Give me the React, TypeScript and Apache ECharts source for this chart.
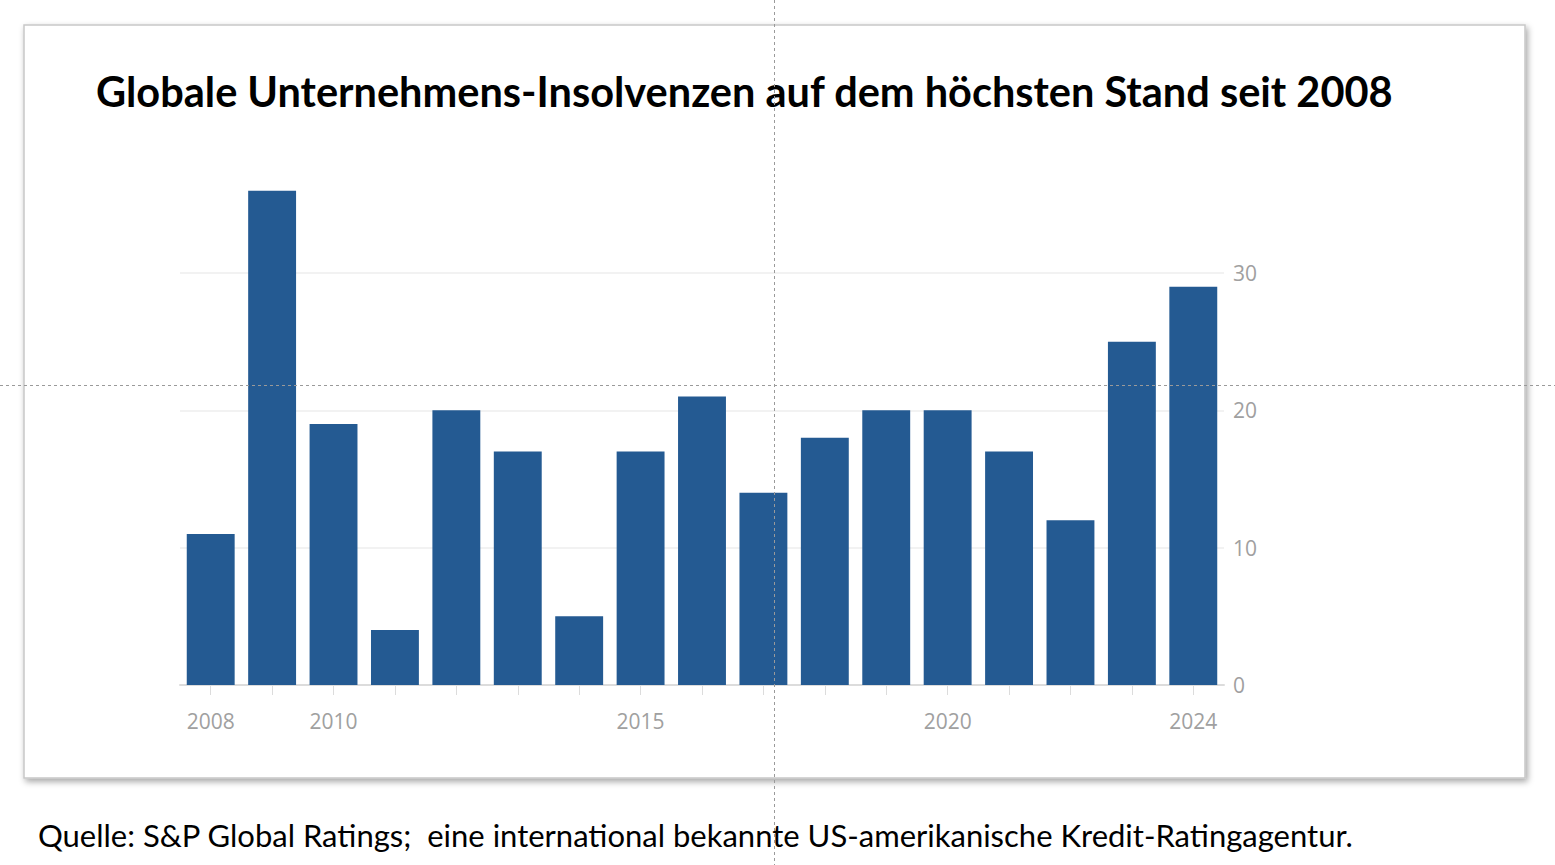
import React, { useEffect, useRef } from "react";
import * as echarts from "echarts";

const years = ["2008","2009","2010","2011","2012","2013","2014","2015","2016","2017","2018","2019","2020","2021","2022","2023","2024"];
const insolvencies = [11, 36, 19, 4, 20, 17, 5, 17, 21, 14, 18, 20, 20, 17, 12, 25, 29];
const labelledYears = ["2008", "2010", "2015", "2020", "2024"];
const titleText = "Globale Unternehmens-Insolvenzen auf dem höchsten Stand seit 2008";
const sourceText = "Quelle: S&P Global Ratings;  eine international bekannte US-amerikanische Kredit-Ratingagentur.";

export default function App() {
  const ref = useRef<HTMLDivElement>(null);
  useEffect(() => {
    if (!ref.current) return;
    const chart = echarts.init(ref.current, null, { renderer: "svg" });
    chart.setOption({
      animation: false,
      backgroundColor: "#ffffff",
      graphic: [
        {
          type: "rect",
          z: -10,
          silent: true,
          shape: { x: 24, y: 25, width: 1501, height: 753 },
          style: {
            fill: "#ffffff",
            stroke: "#c8c8c8",
            lineWidth: 1.5,
            shadowBlur: 6,
            shadowOffsetX: 2,
            shadowOffsetY: 3,
            shadowColor: "rgba(0,0,0,0.35)",
          },
        },
        {
          type: "text",
          x: 96,
          y: 91,
          style: {
            text: titleText,
            font: 'bold 41.5px Lato',
            fill: "#000000",
            textVerticalAlign: "middle",
          },
        },
        {
          type: "text",
          x: 38,
          y: 835,
          style: {
            text: sourceText,
            font: '31px Lato',
            fill: "#000000",
            textVerticalAlign: "middle",
          },
        },
        {
          type: "line",
          z: 100,
          silent: true,
          shape: { x1: 774.5, y1: 0, x2: 774.5, y2: 865 },
          style: { stroke: "#9a9a9a", lineWidth: 1, lineDash: [3, 3] },
        },
        {
          type: "line",
          z: 100,
          silent: true,
          shape: { x1: 0, y1: 385.5, x2: 1555, y2: 385.5 },
          style: { stroke: "#9a9a9a", lineWidth: 1, lineDash: [3, 3] },
        },
      ],
      grid: { left: 180, right: 331, top: 135.7, bottom: 180, containLabel: false },
      xAxis: {
        type: "category",
        data: years,
        axisLine: { show: true, lineStyle: { color: "#dcdcdc", width: 2 } },
        axisTick: { show: true, alignWithLabel: true, length: 10, interval: 0, lineStyle: { color: "#dcdcdc" } },
        axisLabel: {
          interval: (_i: number, v: string) => labelledYears.includes(v),
          color: "#a0a0a0",
          fontFamily: "Open Sans",
          fontSize: 21,
          margin: 25,
        },
      },
      yAxis: {
        type: "value",
        position: "right",
        min: 0,
        max: 40,
        interval: 10,
        axisLine: { show: false },
        axisTick: { show: false },
        axisLabel: {
          color: "#a0a0a0",
          fontFamily: "Open Sans",
          fontSize: 21,
          margin: 9,
          formatter: (v: number) => (v === 40 ? "" : String(v)),
        },
        splitLine: {
          show: true,
          lineStyle: { color: ["#eeeeee", "#eeeeee", "#eeeeee", "#eeeeee", "rgba(0,0,0,0)"], width: 1.5 },
        },
      },
      series: [
        {
          type: "bar",
          data: insolvencies,
          barWidth: "78%",
          itemStyle: { color: "#245A92" },
        },
      ],
    });
    return () => chart.dispose();
  }, []);
  return (
    <div
      ref={ref}
      style={{ position: "fixed", left: 0, top: 0, width: 1555, height: 865 }}
    />
  );
}
